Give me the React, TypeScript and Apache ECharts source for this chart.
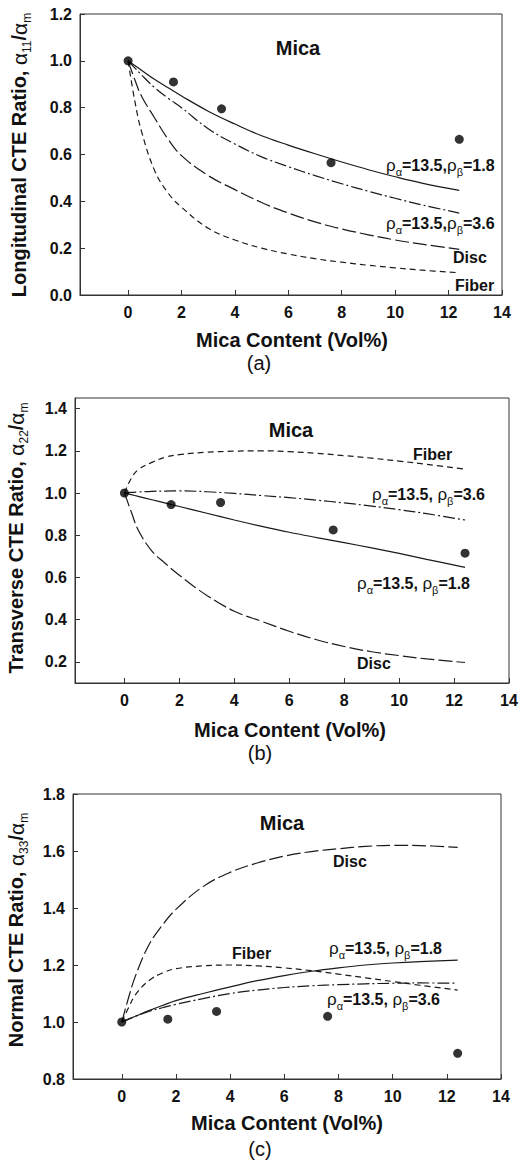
import React, { useEffect, useRef } from "react";
import * as echarts from "echarts";

// ---------- data ----------
const X = [0, 0.25, 0.5, 1, 1.5, 2, 3, 4, 5, 6, 7, 8, 9, 10, 11, 12.4];
const PTS_X = [0, 1.7, 3.5, 7.6, 12.4];
const X_TICKS = [0, 2, 4, 6, 8, 10, 12, 14];

// (a) longitudinal
const aSolid = [1.0, 0.98, 0.96, 0.92, 0.885, 0.85, 0.785, 0.73, 0.68, 0.64, 0.603, 0.568, 0.535, 0.505, 0.478, 0.447];
const aDashDot = [1.0, 0.97, 0.94, 0.885, 0.84, 0.8, 0.71, 0.645, 0.59, 0.548, 0.51, 0.475, 0.443, 0.413, 0.385, 0.35];
const aDisc = [1.0, 0.92, 0.85, 0.755, 0.665, 0.595, 0.51, 0.45, 0.395, 0.35, 0.312, 0.282, 0.257, 0.235, 0.217, 0.195];
const aFiber = [1.0, 0.83, 0.7, 0.53, 0.435, 0.375, 0.285, 0.235, 0.2, 0.175, 0.155, 0.14, 0.127, 0.116, 0.106, 0.095];
const aPts = [1.0, 0.91, 0.795, 0.565, 0.665];
const aYTicks = [0, 0.2, 0.4, 0.6, 0.8, 1.0, 1.2];

// (b) transverse
const bSolid = [1.0, 0.992, 0.984, 0.968, 0.952, 0.936, 0.904, 0.872, 0.842, 0.814, 0.789, 0.765, 0.74, 0.714, 0.686, 0.648];
const bDashDot = [1.0, 1.003, 1.005, 1.008, 1.009, 1.01, 1.006, 0.998, 0.988, 0.978, 0.966, 0.953, 0.938, 0.921, 0.902, 0.872];
const bDisc = [1.0, 0.91, 0.825, 0.725, 0.665, 0.61, 0.515, 0.44, 0.392, 0.345, 0.305, 0.273, 0.248, 0.23, 0.214, 0.197];
const bFiber = [1.0, 1.07, 1.11, 1.145, 1.17, 1.182, 1.193, 1.198, 1.2, 1.196, 1.188, 1.177, 1.165, 1.151, 1.136, 1.113];
const bPts = [1.0, 0.945, 0.955, 0.825, 0.715];
const bYTicks = [0.2, 0.4, 0.6, 0.8, 1.0, 1.2, 1.4];

// (c) normal
const cSolid = [1.0, 1.01, 1.02, 1.04, 1.058, 1.075, 1.1, 1.123, 1.145, 1.163, 1.178, 1.19, 1.2, 1.207, 1.212, 1.217];
const cDashDot = [1.0, 1.01, 1.02, 1.037, 1.05, 1.062, 1.082, 1.1, 1.112, 1.121, 1.127, 1.131, 1.134, 1.136, 1.137, 1.136];
const cDisc = [1.0, 1.085, 1.16, 1.27, 1.34, 1.395, 1.475, 1.525, 1.558, 1.582, 1.598, 1.608, 1.616, 1.62, 1.619, 1.613];
const cFiber = [1.0, 1.05, 1.095, 1.145, 1.172, 1.187, 1.197, 1.2, 1.197, 1.19, 1.18, 1.168, 1.155, 1.142, 1.129, 1.112];
const cPts = [1.0, 1.01, 1.037, 1.02, 0.89];
const cYTicks = [0.8, 1.0, 1.2, 1.4, 1.6, 1.8];

const FONT = "'Liberation Sans', Arial, sans-serif";
const INK = "#111";

const zip = (xs: number[], ys: number[]) => xs.map((x, i) => [x, ys[i]]);

export default function App() {
  const ref = useRef<HTMLDivElement>(null);

  useEffect(() => {
    if (!ref.current) return;
    const chart = echarts.init(ref.current, null, { renderer: "svg" });

    const grids = [
      { left: 80, top: 14, width: 422, height: 281 },
      { left: 75, top: 398, width: 434, height: 285 },
      { left: 73, top: 794, width: 428, height: 285 },
    ];
    const yRanges = [
      { min: 0, max: 1.2, ticks: aYTicks },
      { min: 0.1, max: 1.45, ticks: bYTicks },
      { min: 0.8, max: 1.8, ticks: cYTicks },
    ];

    const xAxes = grids.map((_, i) => ({
      type: "value",
      gridIndex: i,
      min: -1.8,
      max: 14,
      axisLine: { show: true, onZero: false, lineStyle: { color: "#333", width: 1 } },
      axisTick: { show: true, inside: true, length: 5, customValues: X_TICKS, lineStyle: { color: "#333" } },
      axisLabel: {
        customValues: X_TICKS,
        fontFamily: FONT,
        fontWeight: "bold",
        fontSize: 16,
        color: INK,
        margin: 9,
      },
      splitLine: { show: false },
    }));

    const yAxes = yRanges.map((r, i) => ({
      type: "value",
      gridIndex: i,
      min: r.min,
      max: r.max,
      axisLine: { show: true, onZero: false, lineStyle: { color: "#333", width: 1 } },
      axisTick: { show: true, inside: true, length: 5, customValues: r.ticks, lineStyle: { color: "#333" } },
      axisLabel: {
        customValues: r.ticks,
        formatter: (v: number) => v.toFixed(1),
        fontFamily: FONT,
        fontWeight: "bold",
        fontSize: 16,
        color: INK,
        margin: 8,
      },
      splitLine: { show: false },
    }));

    const solid = "solid";
    const dashDot = [12, 3, 2, 3];
    const longDash = [14, 4];
    const shortDash = [6, 4];

    const lineSeries = (i: number, ys: number[], type: any) => ({
      type: "line",
      xAxisIndex: i,
      yAxisIndex: i,
      data: zip(X, ys),
      symbol: "none",
      smooth: 0.4,
      lineStyle: { color: "#1a1a1a", width: 1.2, type },
      silent: true,
    });
    const ptsSeries = (i: number, ys: number[]) => ({
      type: "scatter",
      xAxisIndex: i,
      yAxisIndex: i,
      data: zip(PTS_X, ys),
      symbol: "circle",
      symbolSize: 9,
      itemStyle: { color: "#000" },
      z: 5,
    });

    const series = [
      lineSeries(0, aSolid, solid),
      lineSeries(0, aDashDot, dashDot),
      lineSeries(0, aDisc, longDash),
      lineSeries(0, aFiber, shortDash),
      ptsSeries(0, aPts),
      lineSeries(1, bSolid, solid),
      lineSeries(1, bDashDot, dashDot),
      lineSeries(1, bDisc, longDash),
      lineSeries(1, bFiber, shortDash),
      ptsSeries(1, bPts),
      lineSeries(2, cSolid, solid),
      lineSeries(2, cDashDot, dashDot),
      lineSeries(2, cDisc, longDash),
      lineSeries(2, cFiber, shortDash),
      ptsSeries(2, cPts),
    ];

    // rich styles for curve labels
    const labelRich = {
      r: { fontFamily: FONT, fontSize: 17, fontWeight: "normal", fill: INK, color: INK, lineHeight: 24, verticalAlign: "middle" },
      s: { fontFamily: FONT, fontSize: 11, fontWeight: "normal", fill: INK, color: INK, lineHeight: 12, verticalAlign: "bottom" },
      b: { fontFamily: FONT, fontSize: 16, fontWeight: "bold", fill: INK, color: INK, lineHeight: 24, verticalAlign: "middle" },
    };
    const titleRich = {
      b: { fontFamily: FONT, fontSize: 20, fontWeight: "bold", fill: INK, color: INK, lineHeight: 28, verticalAlign: "middle" },
      g: { fontFamily: FONT, fontSize: 21, fontWeight: "normal", fill: INK, color: INK, lineHeight: 28, verticalAlign: "middle" },
      s: { fontFamily: FONT, fontSize: 12, fontWeight: "normal", fill: INK, color: INK, lineHeight: 14, verticalAlign: "bottom" },
    };

    const rhoLabel = (x: number, y: number, sep: string, beta: string) => ({
      type: "text",
      x,
      y,
      silent: true,
      style: {
        text: `{r|ρ}{s|α}{b|=13.5,${sep}}{r|ρ}{s|β}{b|=${beta}}`,
        rich: labelRich,
        fill: INK,
        align: "left",
        verticalAlign: "middle",
      },
    });
    const plain = (x: number, y: number, text: string, size: number, weight: string, align = "left") => ({
      type: "text",
      x,
      y,
      silent: true,
      style: {
        text,
        fontFamily: FONT,
        fontSize: size,
        fontWeight: weight,
        fill: INK,
        align,
        verticalAlign: "middle",
      },
    });
    const yTitle = (x: number, y: number, name: string, sub: string) => ({
      type: "text",
      x,
      y,
      rotation: Math.PI / 2,
      silent: true,
      style: {
        text: `{b|${name}}{g|α}{s|${sub}}{b|/}{g|α}{s|m}`,
        rich: titleRich,
        fill: INK,
        align: "center",
        verticalAlign: "middle",
      },
    });

    const graphic = [
      // (a)
      plain(298, 48, "Mica", 20, "bold", "center"),
      rhoLabel(386, 165, "", "1.8"),
      rhoLabel(386, 223, "", "3.6"),
      plain(453, 257, "Disc", 16, "bold"),
      plain(455, 285, "Fiber", 16, "bold"),
      yTitle(19, 155, "Longitudinal CTE Ratio, ", "11"),
      plain(292, 340, "Mica Content (Vol%)", 20, "bold", "center"),
      plain(259, 363, "(a)", 20, "normal", "center"),
      // (b)
      plain(291, 430, "Mica", 20, "bold", "center"),
      plain(413, 454, "Fiber", 16, "bold"),
      rhoLabel(372, 494, " ", "3.6"),
      rhoLabel(357, 583, " ", "1.8"),
      plain(357, 663, "Disc", 16, "bold"),
      yTitle(16, 538, "Transverse CTE Ratio, ", "22"),
      plain(290, 730, "Mica Content (Vol%)", 20, "bold", "center"),
      plain(260, 753, "(b)", 20, "normal", "center"),
      // (c)
      plain(282, 823, "Mica", 20, "bold", "center"),
      plain(333, 861, "Disc", 16, "bold"),
      plain(232, 953, "Fiber", 16, "bold"),
      rhoLabel(329, 948, " ", "1.8"),
      rhoLabel(327, 999, " ", "3.6"),
      yTitle(16, 930, "Normal CTE Ratio, ", "33"),
      plain(287, 1123, "Mica Content (Vol%)", 20, "bold", "center"),
      plain(260, 1149, "(c)", 20, "normal", "center"),
    ];

    chart.setOption({
      animation: false,
      backgroundColor: "#fff",
      grid: grids.map((g) => ({ ...g, show: true, borderColor: "#333", borderWidth: 1, backgroundColor: "transparent" })),
      xAxis: xAxes,
      yAxis: yAxes,
      series,
      graphic,
    } as any);

    return () => chart.dispose();
  }, []);

  return (
    <div
      ref={ref}
      style={{ position: "absolute", left: 0, top: 0, width: 527, height: 1160, background: "#fff" }}
    />
  );
}
